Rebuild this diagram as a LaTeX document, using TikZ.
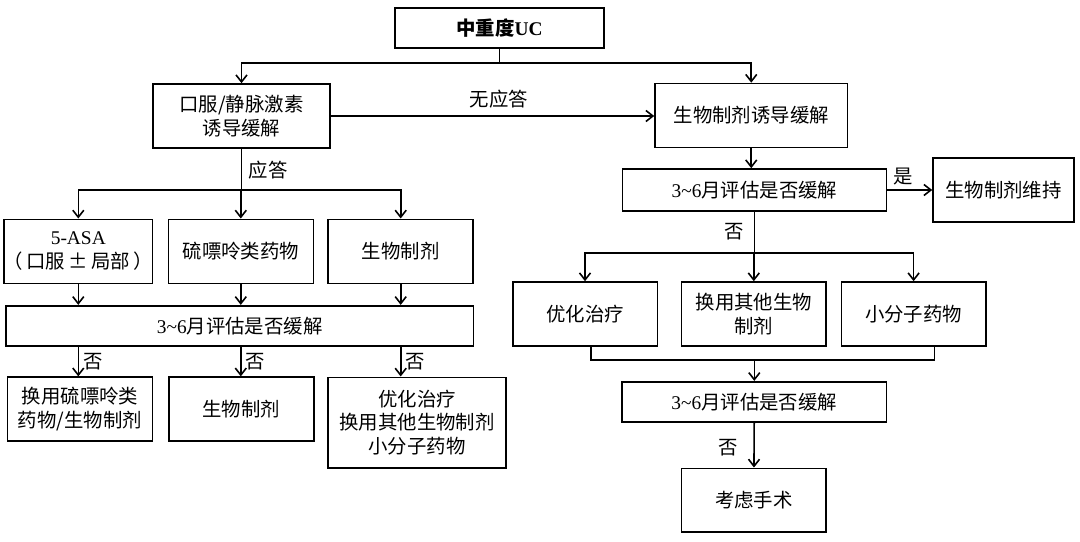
\documentclass[tikz,border=0pt]{standalone}
\usepackage{fontspec}
\setmainfont{Liberation Serif}
\newfontfamily\cjk{Noto Sans CJK SC}
\usetikzlibrary{positioning, arrows.meta, calc}
\newcommand{\lat}[1]{{\rmfamily #1}}

\begin{document}
\begin{tikzpicture}[
    x=0.5pt, y=-0.5pt,
    box/.style={draw, line width=0.8pt, inner sep=0pt, align=center,
                font=\cjk\fontsize{9.7}{11.9}\selectfont},
    std/.style={box, minimum width=72.5pt, minimum height=32pt},
    evalbox/.style={box, minimum height=20pt},
    arrow/.style={-{Straight Barb[length=3.5pt, width=5.5pt]}, line width=0.8pt},
    wire/.style={line width=0.8pt},
    lbl/.style={font=\cjk\fontsize{9.7}{11.9}\selectfont, inner sep=0pt},
]
\useasboundingbox (0,0) rectangle (1080,541);

% ── Entry ────────────────────────────────────────────────────────────────
\node[box, minimum width=104.5pt, minimum height=20pt,
      font=\cjk\bfseries\fontsize{9.7}{11.9}\selectfont] (uc) at (499.5,28)
    {中重度\lat{UC}};
\node[box, minimum width=88.5pt, minimum height=32pt] (steroid) at (241.5,116)
    {口服/静脉激素\\诱导缓解};
\node[box, minimum width=96.25pt, minimum height=32pt] (bioind) at (751.25,115.5)
    {生物制剂诱导缓解};

\coordinate (split) at ($(uc.south)+(0,14)$);
\draw[wire] (uc.south) -- (split);
\draw[arrow] (split) -| (steroid);
\draw[arrow] (split) -| (bioind);

\draw[arrow] (steroid.east) -- (steroid.east -| bioind.west);
\node[lbl] (noresp) at (499,99) {无应答};

% ── Steroid responders: maintenance options ─────────────────────────────
\coordinate (respsplit) at ($(steroid.south)+(0,41)$);
\draw[wire] (steroid.south) -- (respsplit);
\node[lbl] (resp) at (268,170) {应答};

\foreach \i/\xpos/\txt in {1/78.3/{\lat{5-ASA}\\（\,口服\,±\,局部\,）},
                           2/240.8/{硫嘌呤类药物},
                           3/400.7/{生物制剂}} {
    \node[std] (keep\i) at (\xpos,251.3) {\txt};
    \draw[arrow] (respsplit) -| (keep\i);
}

\node[evalbox, minimum width=233.65pt] (evalL) at (239.7,325.7)
    {\lat{3\textasciitilde6}月评估是否缓解};
\foreach \i in {1,2,3} {
    \draw[arrow] (keep\i.south) -- (keep\i.south |- evalL.north);
}

% ── Non-remission after maintenance ─────────────────────────────────────
\node[std, minimum height=31.85pt] (swap1) at (80,409)
    {换用硫嘌呤类\\药物/生物制剂};
\node[std, minimum height=31.85pt] (swap2) at (241.3,409) {生物制剂};
\node[box, minimum width=89pt, minimum height=45.2pt] (swap3) at (417,422.5)
    {优化治疗\\换用其他生物制剂\\小分子药物};
\foreach \i in {1,2,3} {
    \draw[arrow] (keep\i.south |- evalL.south) -- (keep\i.south |- swap\i.north)
        node[lbl, midway, right=2pt] (no\i) {否};
}

% ── Biologic induction branch ───────────────────────────────────────────
\node[evalbox, minimum width=132pt, minimum height=21pt] (evalR) at (754.5,190)
    {\lat{3\textasciitilde6}月评估是否缓解};
\draw[arrow] (bioind.south) -- (bioind.south |- evalR.north);

\node[box, minimum width=70.5pt, minimum height=32pt] (maint) at (1003.5,190)
    {生物制剂维持};
\draw[arrow] (evalR.east) -- (maint.west);
\node[lbl] (yes) at (903,177) {是};

\coordinate (nosplit) at ($(evalR.south)+(0,41)$);
\draw[wire] (evalR.south) -- (nosplit);
\node[lbl] (noR) at (734,232) {否};

\foreach \i/\xpos/\txt in {1/585/{优化治疗},
                           2/753.8/{换用其他生物\\制剂},
                           3/913.6/{小分子药物}} {
    \node[std, minimum width=72.3pt] (alt\i) at (\xpos,314) {\txt};
    \draw[arrow] (nosplit) -| (alt\i);
}

% ── Re-evaluation and surgery ───────────────────────────────────────────
\coordinate (mergeL) at ($(alt1.south)+(6,13)$);
\coordinate (mergeR) at ($(alt3.south)+(21,13)$);
\draw[wire] ($(alt1.south)+(6,0)$) -- (mergeL) -- (mergeR) -- ($(alt3.south)+(21,0)$);

\node[evalbox, minimum width=132.35pt] (evalR2) at (754.3,401.7)
    {\lat{3\textasciitilde6}月评估是否缓解};
\draw[arrow] (mergeL -| evalR2) -- (evalR2);

\node[std, minimum width=72.15pt, minimum height=31.7pt] (surgery) at (753.8,500)
    {考虑手术};
\draw[arrow] (evalR2) -- (surgery);
\node[lbl] (noS) at (728,448) {否};

\end{tikzpicture}
\end{document}
